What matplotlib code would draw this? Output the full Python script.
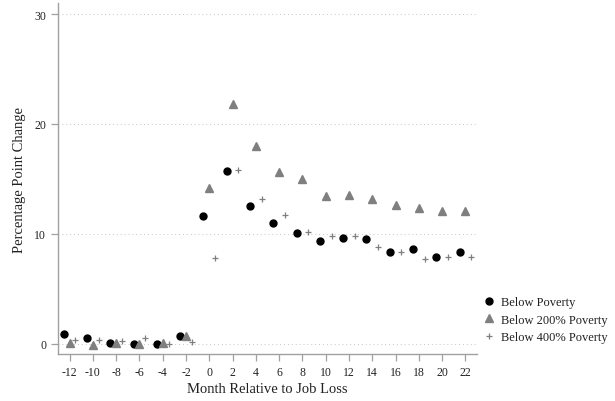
import matplotlib
matplotlib.use("Agg")
import matplotlib.pyplot as plt
import numpy as np

months = [-12, -10, -8, -6, -4, -2, 0, 2, 4, 6, 8, 10, 12, 14, 16, 18, 20, 22]
below_poverty = [0.87, 0.5, 0.03, 0.0, -0.03, 0.7, 11.57, 15.74, 12.48, 11.0, 10.03, 9.34, 9.64, 9.55, 8.3, 8.64, 7.85, 8.3]
below_200 = [0.05, -0.1, 0.03, -0.05, 0.05, 0.72, 14.2, 21.85, 18.0, 15.6, 14.96, 13.4, 13.5, 13.2, 12.57, 12.36, 12.03, 12.06]
below_400 = [0.36, 0.3, 0.27, 0.48, 0.0, 0.15, 7.8, 15.77, 13.17, 11.66, 10.12, 9.76, 9.82, 8.76, 8.3, 7.67, 7.9, 7.85]
xticks = list(range(-12, 23, 2))
yticks = [0, 10, 20, 30]

plt.rcParams['font.family'] = ['Liberation Serif', 'DejaVu Serif']

fig = plt.figure(figsize=(6.15, 4.02), dpi=100)
ax = fig.add_axes([0.0943, 0.1157, 0.6813, 0.8743])

m = np.array(months, dtype=float)
ax.plot(m - 0.5, below_poverty, 'o', color='black', ms=5, mec='black', linestyle='none', label='Below Poverty')
ax.plot(m, below_200, '^', color='#7f7f7f', ms=5.5, mec='#7f7f7f', linestyle='none', label='Below 200% Poverty')
ax.plot(m + 0.5, below_400, '+', color='#7f7f7f', ms=4.5, mew=0.9, linestyle='none', label='Below 400% Poverty')

ax.set_xlim(-13, 23)
ax.set_ylim(-1, 31)
ax.set_xticks(xticks)
ax.set_yticks(yticks)
ax.set_xticklabels([str(t) for t in xticks])
ax.grid(axis='y', linestyle=(0, (1, 3)), color='#c4c4c4', linewidth=0.7)
ax.set_axisbelow(True)

for s in ['top', 'right']:
    ax.spines[s].set_visible(False)
for s in ['left', 'bottom']:
    ax.spines[s].set_color('#a0a0a0')
    ax.spines[s].set_linewidth(1.0)
ax.tick_params(axis='both', colors='#a0a0a0', labelcolor='#222222', labelsize=8.5, length=5, width=0.9)

ax.set_xlabel('Month Relative to Job Loss', fontsize=10.5, color='#222222', labelpad=3)
ax.set_ylabel('Percentage Point Change', fontsize=10.5, color='#222222', labelpad=6)

leg = ax.legend(loc='lower left', bbox_to_anchor=(0.985, 0.0), frameon=False, fontsize=9,
                handletextpad=0.35, handlelength=1.2, labelspacing=0.45)
for t in leg.get_texts():
    t.set_color('#222222')

fig.savefig('out.png', dpi=100)
